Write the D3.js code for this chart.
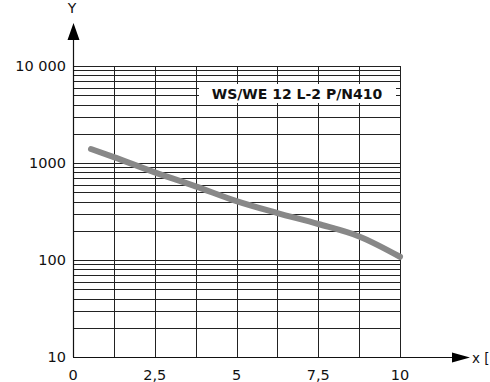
<!DOCTYPE html>
<html>
<head>
<meta charset="utf-8">
<script src="https://cdn.jsdelivr.net/npm/d3@7"></script>
<style>
  body { margin: 0; background: #fff; }
  text { font-family: "DejaVu Sans", sans-serif; fill: #111; }
</style>
</head>
<body>
<div id="chart"></div>
<script>
// curve values
const xValues = [0.55, 1.25, 2.5, 3.75, 5, 6.25, 7.5, 8.75, 10]
const yValues = [1394, 1150, 800, 575, 405, 305, 235, 175, 108]

const xTicks = [0, 2.5, 5, 7.5, 10]
const xTickLabels = ["0", "2,5", "5", "7,5", "10"]
const yTicks = [10, 100, 1000, 10000]
const yTickLabels = ["10", "100", "1000", "10 000"]
const xGrid = [0, 1.25, 2.5, 3.75, 5, 6.25, 7.5, 8.75, 10]

const seriesLabel = "WS/WE 12 L-2 P/N410"

// Set dimensions
const width = 490
const height = 382
const plot = { left: 73, right: 400, top: 66, bottom: 357 }

const x = d3.scaleLinear().domain([0, 10]).range([plot.left, plot.right])
const y = d3.scaleLog().domain([10, 10000]).range([plot.bottom, plot.top])

const svg = d3.select("#chart")
    .append("svg")
    .attr("width", width)
    .attr("height", height)

// horizontal log grid
svg.append("g")
    .selectAll("line")
    .data(y.ticks())
    .join("line")
    .attr("x1", plot.left)
    .attr("x2", plot.right)
    .attr("y1", d => Math.round(y(d)) + 0.5)
    .attr("y2", d => Math.round(y(d)) + 0.5)
    .attr("stroke", "#222")
    .attr("stroke-width", 1)

// vertical grid
svg.append("g")
    .selectAll("line")
    .data(xGrid)
    .join("line")
    .attr("x1", d => Math.round(x(d)) + 0.5)
    .attr("x2", d => Math.round(x(d)) + 0.5)
    .attr("y1", plot.top)
    .attr("y2", plot.bottom)
    .attr("stroke", "#222")
    .attr("stroke-width", 1)

// y axis with arrow
svg.append("line")
    .attr("x1", plot.left + 0.5).attr("x2", plot.left + 0.5)
    .attr("y1", plot.bottom).attr("y2", 38)
    .attr("stroke", "#111").attr("stroke-width", 1.2)
svg.append("path")
    .attr("d", `M${plot.left + 0.5},23 L${plot.left - 5.5},40 L${plot.left + 6.5},40 Z`)
    .attr("fill", "#000")
svg.append("text")
    .attr("x", plot.left - 1)
    .attr("y", 13)
    .attr("text-anchor", "middle")
    .style("font-size", "14px")
    .text("Y")

// x axis with arrow
svg.append("line")
    .attr("x1", plot.left).attr("x2", 455)
    .attr("y1", plot.bottom + 0.5).attr("y2", plot.bottom + 0.5)
    .attr("stroke", "#111").attr("stroke-width", 1.2)
svg.append("path")
    .attr("d", `M470,${plot.bottom + 0.5} L452,${plot.bottom - 4.5} L452,${plot.bottom + 5.5} Z`)
    .attr("fill", "#000")
svg.append("text")
    .attr("x", 472)
    .attr("y", plot.bottom + 6)
    .style("font-size", "13.5px")
    .text("x [")

// tick labels
svg.append("g")
    .selectAll("text")
    .data(yTicks)
    .join("text")
    .attr("x", 66)
    .attr("y", d => y(d) + 5)
    .attr("text-anchor", "end")
    .style("font-size", "14.5px")
    .text((d, i) => yTickLabels[i])

svg.append("g")
    .selectAll("text")
    .data(xTicks)
    .join("text")
    .attr("x", d => x(d))
    .attr("y", 380)
    .attr("text-anchor", "middle")
    .style("font-size", "14.5px")
    .text((d, i) => xTickLabels[i])

// series label box
svg.append("rect")
    .attr("x", 199)
    .attr("y", 84)
    .attr("width", 197)
    .attr("height", 19)
    .attr("fill", "#fff")
svg.append("text")
    .attr("x", 297)
    .attr("y", 98.5)
    .attr("text-anchor", "middle")
    .style("font-size", "14px")
    .style("font-weight", "bold")
    .text(seriesLabel)

// curve
const points = xValues.map((d, i) => ({ x: d, y: yValues[i] }))
const line = d3.line()
    .x(d => x(d.x))
    .y(d => y(d.y))
    .curve(d3.curveMonotoneX)

svg.append("path")
    .datum(points)
    .attr("fill", "none")
    .attr("stroke", "#888")
    .attr("stroke-width", 6)
    .attr("stroke-linecap", "round")
    .attr("d", line)
</script>
</body>
</html>
